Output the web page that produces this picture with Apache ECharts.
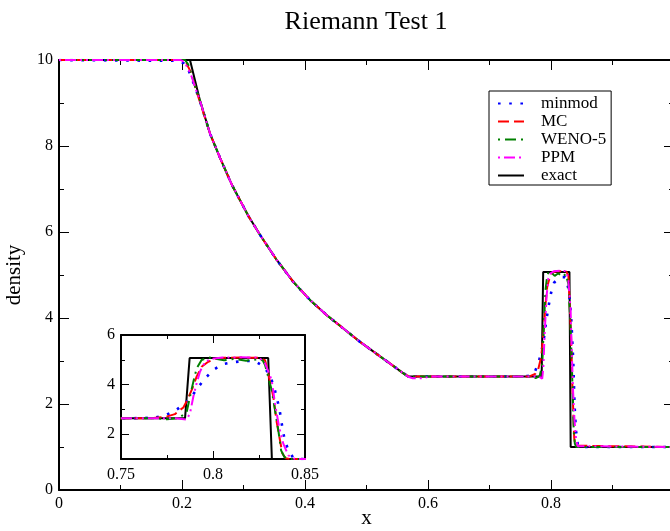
<!DOCTYPE html>
<html>
<head>
<meta charset="utf-8">
<script src="https://cdn.jsdelivr.net/npm/echarts@6/dist/echarts.min.js"></script>
<style>
html,body{margin:0;padding:0;background:#fff;}
#c{width:670px;height:531px;}
</style>
</head>
<body>
<div id="c"></div>
<script>
// ---- data ----
const titleText = 'Riemann Test 1';
const seriesNames = ['minmod', 'MC', 'WENO-5', 'PPM', 'exact'];

const exactX   = [0, 0.213, 0.229, 0.2455, 0.262, 0.281, 0.308, 0.327, 0.354, 0.381, 0.408, 0.435, 0.462, 0.489, 0.517, 0.544, 0.567, 0.7848, 0.7873, 0.830, 0.832, 1.0];
const exactRho = [10, 10, 9.07, 8.29, 7.72, 7.10, 6.37, 5.93, 5.35, 4.84, 4.42, 4.07, 3.76, 3.45, 3.16, 2.88, 2.64, 2.64, 5.07, 5.07, 1.0, 1.0];

const minmodX   = [0, 0.195, 0.203, 0.211, 0.219, 0.229, 0.2455, 0.262, 0.281, 0.308, 0.327, 0.354, 0.381, 0.408, 0.435, 0.462, 0.489, 0.517, 0.544, 0.562, 0.575, 0.75, 0.762, 0.7685, 0.7743, 0.7797, 0.7848, 0.7888, 0.792, 0.7957, 0.8002, 0.805, 0.8105, 0.8165, 0.8228, 0.8277, 0.831, 0.8332, 0.8346, 0.836, 0.837, 0.8379, 0.8391, 0.841, 0.8436, 0.846, 1.0];
const minmodRho = [10, 9.98, 9.92, 9.75, 9.45, 9.05, 8.29, 7.72, 7.10, 6.37, 5.93, 5.35, 4.84, 4.42, 4.07, 3.76, 3.45, 3.16, 2.88, 2.70, 2.64, 2.64, 2.65, 2.67, 2.77, 2.96, 3.24, 3.56, 3.90, 4.25, 4.59, 4.82, 4.90, 4.95, 4.95, 4.72, 4.36, 3.91, 3.48, 3.06, 2.61, 2.16, 1.73, 1.35, 1.05, 1.0, 1.0];

const mcX   = [0, 0.2, 0.207, 0.215, 0.223, 0.2455, 0.262, 0.281, 0.308, 0.327, 0.354, 0.381, 0.408, 0.435, 0.462, 0.489, 0.517, 0.544, 0.56, 0.57, 0.765, 0.7743, 0.7793, 0.7839, 0.7857, 0.7888, 0.7911, 0.7938, 0.7974, 0.801, 0.806, 0.815, 0.825, 0.8283, 0.8292, 0.831, 0.8328, 0.8346, 0.8359, 0.8377, 0.8395, 0.842, 1.0];
const mcRho = [10, 10, 9.93, 9.7, 9.3, 8.29, 7.72, 7.10, 6.37, 5.93, 5.35, 4.84, 4.42, 4.07, 3.76, 3.45, 3.16, 2.88, 2.71, 2.64, 2.64, 2.70, 2.81, 3.08, 3.33, 3.85, 4.32, 4.72, 4.92, 5.03, 5.08, 5.09, 5.08, 4.98, 4.72, 4.10, 3.51, 2.50, 1.96, 1.22, 1.03, 1.0, 1.0];

const wenoX   = [0, 0.205, 0.21, 0.216, 0.222, 0.229, 0.2455, 0.262, 0.281, 0.308, 0.327, 0.354, 0.381, 0.408, 0.435, 0.462, 0.489, 0.517, 0.544, 0.567, 0.77, 0.775, 0.7815, 0.7857, 0.7875, 0.7893, 0.7911, 0.7938, 0.7974, 0.801, 0.806, 0.812, 0.818, 0.824, 0.827, 0.8283, 0.8319, 0.8337, 0.8355, 0.837, 0.8388, 0.841, 1.0];
const wenoRho = [10, 10, 9.9, 9.65, 9.35, 9.07, 8.29, 7.72, 7.10, 6.37, 5.93, 5.35, 4.84, 4.42, 4.07, 3.76, 3.45, 3.16, 2.88, 2.64, 2.64, 2.60, 2.65, 2.90, 3.51, 4.11, 4.65, 4.99, 5.10, 5.05, 4.98, 5.04, 4.96, 5.02, 4.98, 4.79, 3.78, 2.97, 2.16, 1.35, 1.08, 1.0, 1.0];

const ppmX   = [0, 0.198, 0.204, 0.21, 0.216, 0.223, 0.229, 0.2455, 0.262, 0.281, 0.308, 0.327, 0.354, 0.381, 0.408, 0.435, 0.462, 0.489, 0.517, 0.544, 0.567, 0.575, 0.59, 0.605, 0.78, 0.7857, 0.7875, 0.7893, 0.7911, 0.7929, 0.7957, 0.7993, 0.805, 0.815, 0.825, 0.8283, 0.8319, 0.8337, 0.8359, 0.8382, 0.8409, 0.8436, 0.846, 1.0];
const ppmRho = [10, 10, 9.95, 9.8, 9.6, 9.3, 9.07, 8.29, 7.72, 7.10, 6.37, 5.93, 5.35, 4.84, 4.42, 4.07, 3.76, 3.45, 3.16, 2.88, 2.64, 2.60, 2.60, 2.64, 2.64, 2.59, 2.84, 3.51, 4.05, 4.52, 4.92, 5.04, 5.09, 5.10, 5.09, 4.86, 4.18, 3.24, 2.30, 1.62, 1.15, 1.02, 1.0, 1.0];

const mainXTicks = [0, 0.2, 0.4, 0.6, 0.8];
const mainYTicks = [0, 2, 4, 6, 8, 10];
const insetXTicks = [0.75, 0.8, 0.85];
const insetXMinor = [0.775, 0.825];
const insetYTicks = [2, 4, 6];
const insetYMinor = [1, 3, 5];

// ---- chart ----
const zip = (xs, ys) => xs.map((x, i) => [x, ys[i]]);
const FONT = 'Liberation Serif';
const styles = {
  'minmod': {color: '#0000ff', type: [2.6, 8.6], width: 2.6},
  'MC':     {color: '#ff0000', type: [11, 5], width: 2},
  'WENO-5': {color: '#008000', type: [2, 5, 11, 5], width: 2},
  'PPM':    {color: '#ff00ff', type: [2, 4, 11, 4, 2, 4], width: 2},
  'exact':  {color: '#000000', type: 'solid', width: 2}
};
const dataMap = {
  'minmod': zip(minmodX, minmodRho),
  'MC': zip(mcX, mcRho),
  'WENO-5': zip(wenoX, wenoRho),
  'PPM': zip(ppmX, ppmRho),
  'exact': zip(exactX, exactRho)
};

const series = [];
seriesNames.forEach(name => {
  const st = styles[name];
  [[0, 0], [2, 2]].forEach(([xi, yi]) => {
    series.push({
      name, type: 'line', xAxisIndex: xi, yAxisIndex: yi,
      data: dataMap[name], symbol: 'none', showSymbol: false, clip: true,
      animation: false, z: name === 'exact' ? 3 : 4,
      itemStyle: {color: st.color},
      lineStyle: {color: st.color, width: st.width, type: st.type, cap: 'butt'}
    });
  });
});

const lbl = {color: '#000', fontFamily: FONT, fontSize: 16};
const axLine = {show: true, onZero: false, lineStyle: {color: '#000', width: 2}};
const noLine = {show: false, onZero: false};
const tickStyle = {color: '#000', width: 1};

const option = {
  animation: false,
  backgroundColor: '#fff',
  title: {
    text: titleText, left: 361, top: 4, textAlign: 'center',
    textStyle: {color: '#000', fontFamily: FONT, fontSize: 26, fontWeight: 'normal'}
  },
  legend: {
    data: seriesNames, orient: 'vertical', left: 489, top: 91,
    borderColor: '#000', borderWidth: 1, padding: [4, 5, 1, 8],
    itemWidth: 26, itemHeight: 12, itemGap: 1,
    itemStyle: {opacity: 0},
    textStyle: {color: '#000', fontFamily: FONT, fontSize: 17, lineHeight: 14, padding: [0, 0, 0, 12]},
    selectedMode: false
  },
  grid: [
    {left: 59, top: 60, width: 615, height: 430, show: false, outerBoundsMode: 'none', containLabel: false},
    {left: 121, top: 335, width: 184, height: 124, show: true, backgroundColor: '#fff', borderWidth: 0, outerBoundsMode: 'none', containLabel: false}
  ],
  xAxis: [
    {gridIndex: 0, type: 'value', min: 0, max: 1, interval: 0.2, position: 'bottom',
     axisLine: axLine, splitLine: {show: false},
     axisTick: {inside: true, length: 10, lineStyle: tickStyle},
     minorTick: {show: true, splitNumber: 2, length: 5, lineStyle: tickStyle},
     axisLabel: {...lbl, margin: 6, formatter: v => mainXTicks.some(t => Math.abs(t - v) < 1e-9) ? String(v) : ''},
     name: 'x', nameLocation: 'middle', nameGap: 18, nameMoveOverlap: false,
     nameTextStyle: {color: '#000', fontFamily: FONT, fontSize: 21}},
    {gridIndex: 0, type: 'value', min: 0, max: 1, interval: 0.2, position: 'top',
     axisLine: axLine, splitLine: {show: false},
     axisTick: {inside: true, length: 10, lineStyle: tickStyle},
     minorTick: {show: true, splitNumber: 2, length: 5, lineStyle: tickStyle},
     axisLabel: {show: false}},
    {gridIndex: 1, type: 'value', min: 0.75, max: 0.85, position: 'bottom',
     axisLine: axLine, splitLine: {show: false},
     axisTick: {inside: true, length: 8, customValues: insetXTicks, lineStyle: tickStyle},
     axisLabel: {...lbl, margin: 8, customValues: insetXTicks, formatter: v => String(+v.toFixed(3))}},
    {gridIndex: 1, type: 'value', min: 0.75, max: 0.85, position: 'top',
     axisLine: axLine, splitLine: {show: false},
     axisTick: {inside: true, length: 8, customValues: insetXTicks, lineStyle: tickStyle},
     axisLabel: {show: false}},
    {gridIndex: 1, type: 'value', min: 0.75, max: 0.85, position: 'bottom',
     axisLine: noLine, splitLine: {show: false},
     axisTick: {inside: true, length: 4, customValues: insetXMinor, lineStyle: tickStyle},
     axisLabel: {show: false}},
    {gridIndex: 1, type: 'value', min: 0.75, max: 0.85, position: 'top',
     axisLine: noLine, splitLine: {show: false},
     axisTick: {inside: true, length: 4, customValues: insetXMinor, lineStyle: tickStyle},
     axisLabel: {show: false}}
  ],
  yAxis: [
    {gridIndex: 0, type: 'value', min: 0, max: 10, interval: 2, position: 'left',
     axisLine: axLine, splitLine: {show: false},
     axisTick: {inside: true, length: 10, lineStyle: tickStyle},
     minorTick: {show: true, splitNumber: 2, length: 5, lineStyle: tickStyle},
     axisLabel: {...lbl, margin: 6},
     name: 'density', nameLocation: 'middle', nameGap: 34, nameRotate: 90, nameMoveOverlap: false,
     nameTextStyle: {color: '#000', fontFamily: FONT, fontSize: 21}},
    {gridIndex: 0, type: 'value', min: 0, max: 10, interval: 2, position: 'right',
     axisLine: axLine, splitLine: {show: false},
     axisTick: {inside: true, length: 10, lineStyle: tickStyle},
     minorTick: {show: true, splitNumber: 2, length: 5, lineStyle: tickStyle},
     axisLabel: {show: false}},
    {gridIndex: 1, type: 'value', min: 1, max: 6, position: 'left',
     axisLine: axLine, splitLine: {show: false},
     axisTick: {inside: true, length: 8, customValues: insetYTicks, lineStyle: tickStyle},
     axisLabel: {...lbl, margin: 6, customValues: insetYTicks}},
    {gridIndex: 1, type: 'value', min: 1, max: 6, position: 'right',
     axisLine: axLine, splitLine: {show: false},
     axisTick: {inside: true, length: 8, customValues: insetYTicks, lineStyle: tickStyle},
     axisLabel: {show: false}},
    {gridIndex: 1, type: 'value', min: 1, max: 6, position: 'left',
     axisLine: noLine, splitLine: {show: false},
     axisTick: {inside: true, length: 4, customValues: insetYMinor, lineStyle: tickStyle},
     axisLabel: {show: false}},
    {gridIndex: 1, type: 'value', min: 1, max: 6, position: 'right',
     axisLine: noLine, splitLine: {show: false},
     axisTick: {inside: true, length: 4, customValues: insetYMinor, lineStyle: tickStyle},
     axisLabel: {show: false}}
  ],
  series
};

const chart = echarts.init(document.getElementById('c'), null, {renderer: 'canvas'});
chart.setOption(option);
</script>
</body>
</html>
